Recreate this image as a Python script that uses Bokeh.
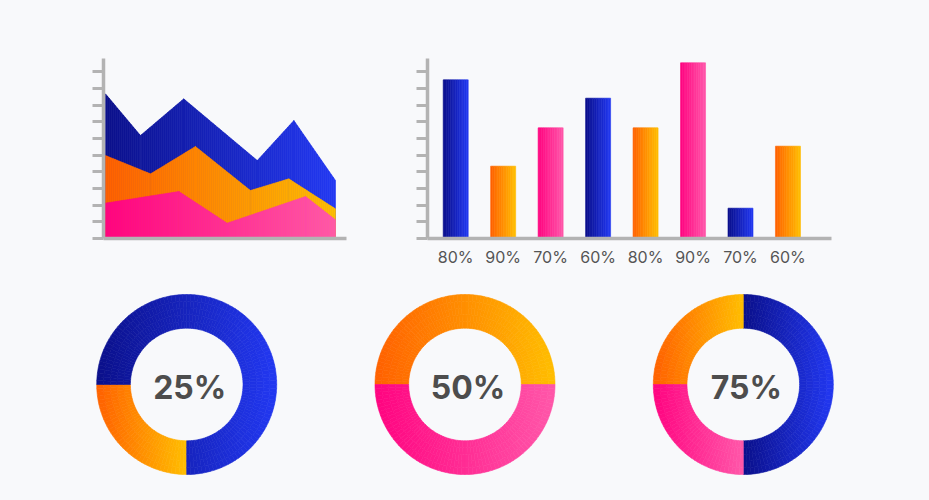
import numpy as np
from bokeh.plotting import figure
from bokeh.layouts import column, row
from bokeh.models import FixedTicker
from bokeh.core.properties import value
from bokeh.embed import file_html
from bokeh.resources import INLINE

BG = "#f8f9fb"
AXIS = "#b3b3b3"
TEXT = "#4d4d4d"

# gradient stops (left -> right)
GRAD = {
    "blue": ("#0a0f8a", "#2238f2"),
    "orange": ("#ff6000", "#ffbe00"),
    "pink": ("#ff0380", "#ff57a9"),
}

# ---------------- data ----------------
# area chart (three overlapping layers)
area_blue_x = [0, 1.52, 3.40, 6.60, 8.19, 10]
area_blue_y = [8.68, 6.18, 8.38, 4.68, 7.08, 3.48]
area_orange_x = [0, 1.96, 3.91, 6.30, 7.97, 10]
area_orange_y = [4.98, 3.88, 5.52, 2.88, 3.58, 1.78]
area_pink_x = [0, 3.19, 5.29, 8.70, 10]
area_pink_y = [2.12, 2.82, 0.92, 2.52, 1.12]

# bar chart
bar_labels = ["80%", "90%", "70%", "60%", "80%", "90%", "70%", "60%"]
bar_values = [9.52, 4.34, 6.64, 8.42, 6.64, 10.54, 1.82, 5.54]
bar_colors = ["blue", "orange", "pink", "blue", "orange", "pink", "blue", "orange"]

# donuts: label, start angle (deg), segments (colour, fraction) anticlockwise
donut_labels = ["25%", "50%", "75%"]
donut_starts = [180, 0, -90]
donut_colors = [["orange", "blue"], ["orange", "pink"], ["blue", "orange", "pink"]]
donut_fracs = [[0.25, 0.75], [0.5, 0.5], [0.5, 0.25, 0.25]]

Y_TICKS = list(range(0, 11))


def hex2rgb(h):
    h = h.lstrip("#")
    return np.array([int(h[i:i + 2], 16) for i in (0, 2, 4)], dtype=float)


def grad_color(name, t):
    a, b = (hex2rgb(c) for c in GRAD[name])
    t = min(max(t, 0.0), 1.0)
    c = a + (b - a) * t
    return "#%02x%02x%02x" % tuple(int(round(v)) for v in c)


def style(p):
    p.background_fill_color = BG
    p.border_fill_color = BG
    p.outline_line_color = None
    p.xgrid.visible = False
    p.ygrid.visible = False


def style_yaxis(ax):
    # unlabeled tick stubs: use minor ticks only (no label texts at all)
    ax.ticker = FixedTicker(ticks=[], minor_ticks=Y_TICKS)
    ax.major_tick_line_color = None
    ax.major_tick_out = 0
    ax.minor_tick_out = 11
    ax.minor_tick_in = 0
    ax.minor_tick_line_width = 3
    ax.minor_tick_line_color = AXIS
    ax.axis_line_color = AXIS
    ax.axis_line_width = 3.5
    ax.major_label_standoff = 0


# ---------------- area chart ----------------
pa = figure(width=380, height=270, x_range=(-0.087, 10.478), y_range=(0, 10.8),
            output_backend="svg", toolbar_location=None,
            min_border_left=103, min_border_right=34, min_border_top=58, min_border_bottom=32)
style(pa)
style_yaxis(pa.yaxis[0])
xa = pa.xaxis[0]
xa.ticker = FixedTicker(ticks=[], minor_ticks=[])
xa.major_tick_line_color = None
xa.major_tick_out = 0
xa.minor_tick_line_color = None
xa.major_label_standoff = 0
xa.axis_line_color = AXIS
xa.axis_line_width = 3.5

for name, xs, ys in [("blue", area_blue_x, area_blue_y),
                     ("orange", area_orange_x, area_orange_y),
                     ("pink", area_pink_x, area_pink_y)]:
    grid = np.union1d(np.linspace(xs[0], xs[-1], 116), xs)
    pxs, pys, cols = [], [], []
    for a, b in zip(grid[:-1], grid[1:]):
        ya, yb = np.interp(a, xs, ys), np.interp(b, xs, ys)
        pxs.append([a, a, b, b])
        pys.append([0, ya, yb, 0])
        cols.append(grad_color(name, ((a + b) / 2 - xs[0]) / (xs[-1] - xs[0])))
    pa.patches(xs=pxs, ys=pys, fill_color=cols, line_color=cols, line_width=0.6)

# ---------------- bar chart ----------------
pb = figure(width=549, height=270, x_range=(-0.594, 7.917), y_range=(0, 10.8),
            output_backend="svg", toolbar_location=None,
            min_border_left=47, min_border_right=98, min_border_top=58, min_border_bottom=32)
style(pb)
style_yaxis(pb.yaxis[0])
xb = pb.xaxis[0]
xb.ticker = FixedTicker(ticks=list(range(len(bar_labels))), minor_ticks=[])
xb.major_label_overrides = {i: lab for i, lab in enumerate(bar_labels)}
xb.major_tick_line_color = None
xb.major_tick_out = 0
xb.major_tick_in = 0
xb.minor_tick_line_color = None
xb.axis_line_color = AXIS
xb.axis_line_width = 3.5
xb.major_label_text_font = "Inter"
xb.major_label_text_font_size = "16px"
xb.major_label_text_color = "#555555"
xb.major_label_standoff = 8

BAR_W = 0.527
NS = 14
L, R, T, C = [], [], [], []
for i, (v, cname) in enumerate(zip(bar_values, bar_colors)):
    edges = np.linspace(i - BAR_W / 2, i + BAR_W / 2, NS + 1)
    for k in range(NS):
        L.append(edges[k])
        R.append(edges[k + 1])
        T.append(v)
        C.append(grad_color(cname, (k + 0.5) / NS))
pb.quad(left=L, right=R, bottom=0, top=T, fill_color=C, line_color=C, line_width=0.6)

# ---------------- donuts ----------------
UNIT = 278.3
pd_ = figure(width=929, height=230, x_range=(-186.2 / UNIT, (929 - 186.2) / UNIT),
             y_range=(-116 / UNIT, 114 / UNIT), output_backend="svg", toolbar_location=None,
             min_border=0)
style(pd_)
pd_.axis.visible = False

R_OUT = 90 / UNIT
R_IN = 56.3 / UNIT
NR = 5
ring_edges = np.linspace(R_IN, R_OUT, NR + 1)
cx, ri, ro, sa, ea, cc = [], [], [], [], [], []
for i in range(len(donut_labels)):
    ang = np.deg2rad(donut_starts[i])
    for cname, frac in zip(donut_colors[i], donut_fracs[i]):
        a0, a1 = ang, ang + frac * 2 * np.pi
        ang = a1
        th = np.linspace(a0, a1, 400)
        xsamp = np.concatenate([R_OUT * np.cos(th), R_IN * np.cos(th)])
        xmin, xmax = xsamp.min(), xsamp.max()
        nstep = max(int(np.ceil(np.rad2deg(a1 - a0) / 2.5)), 1)
        aed = np.linspace(a0, a1, nstep + 1)
        for k in range(nstep):
            am = (aed[k] + aed[k + 1]) / 2
            for j in range(NR):
                rm = (ring_edges[j] + ring_edges[j + 1]) / 2
                xm = rm * np.cos(am)
                cx.append(i)
                ri.append(ring_edges[j])
                ro.append(ring_edges[j + 1])
                sa.append(aed[k])
                ea.append(aed[k + 1])
                cc.append(grad_color(cname, (xm - xmin) / (xmax - xmin)))
pd_.annular_wedge(x=cx, y=0, inner_radius=ri, outer_radius=ro, start_angle=sa, end_angle=ea,
                  fill_color=cc, line_color=cc, line_width=0.6)

pd_.text(x=[i + 3 / UNIT for i in range(len(donut_labels))], y=[-2.5 / UNIT] * len(donut_labels),
         text=donut_labels, text_align="center", text_baseline="middle",
         text_font=value("Inter"), text_font_style="bold", text_font_size="32px",
         text_color=TEXT)

top = row(pa, pb, styles={"background-color": BG})
layout = column(top, pd_, styles={"background-color": BG})
open("out.html", "w").write(file_html(layout, INLINE))
